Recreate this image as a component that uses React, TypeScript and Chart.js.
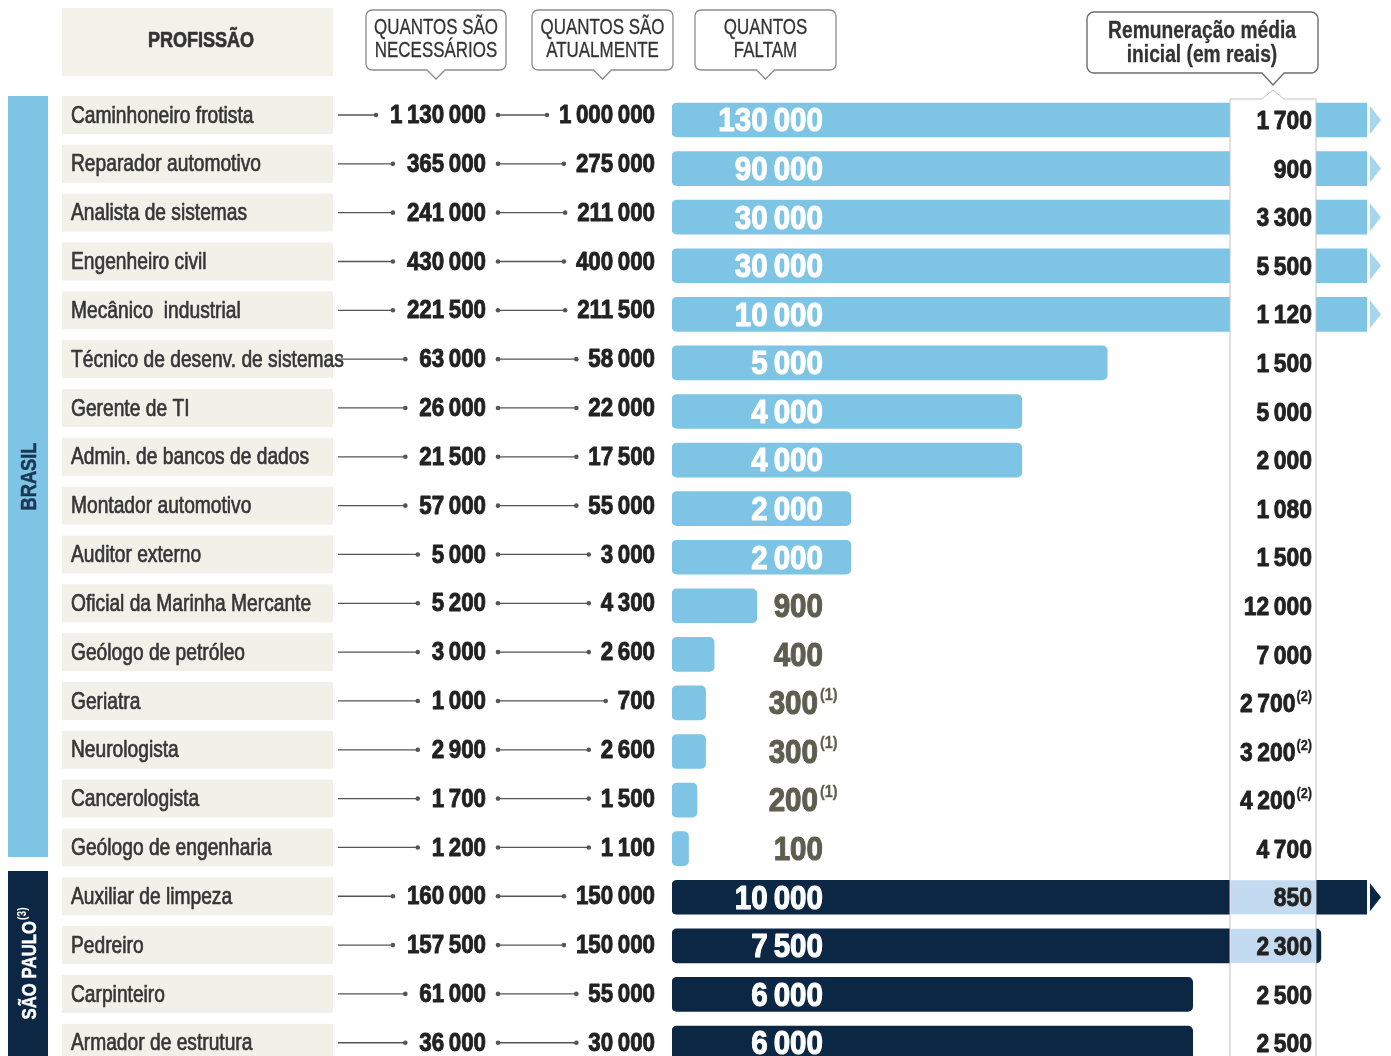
import React, { useEffect, useRef } from "react";
import { Chart, registerables } from "chart.js";
Chart.register(...registerables);

const professions = [
  "Caminhoneiro frotista",
  "Reparador automotivo",
  "Analista de sistemas",
  "Engenheiro civil",
  "Mecânico  industrial",
  "Técnico de desenv. de sistemas",
  "Gerente de TI",
  "Admin. de bancos de dados",
  "Montador automotivo",
  "Auditor externo",
  "Oficial da Marinha Mercante",
  "Geólogo de petróleo",
  "Geriatra",
  "Neurologista",
  "Cancerologista",
  "Geólogo de engenharia",
  "Auxiliar de limpeza",
  "Pedreiro",
  "Carpinteiro",
  "Armador de estrutura",
];
const regions = [
  "BRASIL", "BRASIL", "BRASIL", "BRASIL", "BRASIL", "BRASIL", "BRASIL", "BRASIL",
  "BRASIL", "BRASIL", "BRASIL", "BRASIL", "BRASIL", "BRASIL", "BRASIL", "BRASIL",
  "SÃO PAULO", "SÃO PAULO", "SÃO PAULO", "SÃO PAULO",
];
const needed = [1130000, 365000, 241000, 430000, 221500, 63000, 26000, 21500, 57000, 5000, 5200, 3000, 1000, 2900, 1700, 1200, 160000, 157500, 61000, 36000];
const current = [1000000, 275000, 211000, 400000, 211500, 58000, 22000, 17500, 55000, 3000, 4300, 2600, 700, 2600, 1500, 1100, 150000, 150000, 55000, 30000];
const missing = [130000, 90000, 30000, 30000, 10000, 5000, 4000, 4000, 2000, 2000, 900, 400, 300, 300, 200, 100, 10000, 7500, 6000, 6000];
const salary = [1700, 900, 3300, 5500, 1120, 1500, 5000, 2000, 1080, 1500, 12000, 7000, 2700, 3200, 4200, 4700, 850, 2300, 2500, 2500];
const missingNotes = ["", "", "", "", "", "", "", "", "", "", "", "", "(1)", "(1)", "(1)", "", "", "", "", ""];
const salaryNotes = ["", "", "", "", "", "", "", "", "", "", "", "", "(2)", "(2)", "(2)", "", "", "", "", ""];
const headerNeeded = ["QUANTOS SÃO", "NECESSÁRIOS"];
const headerCurrent = ["QUANTOS SÃO", "ATUALMENTE"];
const headerMissing = ["QUANTOS", "FALTAM"];
const headerSalary = ["Remuneração média", "inicial (em reais)"];
const headerProf = "PROFISSÃO";
const regionNames = ["BRASIL", "SÃO PAULO"];
const regionNoteSP = "(3)";

const X_MIN = -93;
const X_MAX = 8040;

const LIGHT = "#7dc4e5";
const DARK = "#0b2744";
const BAND_LIGHT_FILL = "#c4daf0";
const GRAY_LABEL = "#5e5e50";
const FONT = '"Liberation Sans", Arial, sans-serif';

function fmt(n: number) {
  return String(n).replace(/\B(?=(\d{3})+(?!\d))/g, "\u2009");
}

type TOpts = { size: number; bold?: boolean; align?: "left" | "right" | "center"; color: string; sx?: number; heavy?: number };

function txt(ctx: CanvasRenderingContext2D, s: string, x: number, y: number, o: TOpts) {
  const sx = o.sx ?? 0.82;
  ctx.save();
  ctx.font = `${o.bold ? "bold " : ""}${o.size}px ${FONT}`;
  const w = ctx.measureText(s).width * sx;
  const align = o.align ?? "left";
  const left = align === "left" ? x : align === "right" ? x - w : x - w / 2;
  ctx.translate(left, y);
  ctx.scale(sx, 1);
  ctx.textAlign = "left";
  ctx.textBaseline = "middle";
  ctx.fillStyle = o.color;
  ctx.fillText(s, 0, 0);
  if (o.heavy) {
    ctx.strokeStyle = o.color;
    ctx.lineWidth = o.heavy;
    ctx.lineJoin = "round";
    ctx.strokeText(s, 0, 0);
  }
  ctx.restore();
  return w;
}

function measure(ctx: CanvasRenderingContext2D, s: string, size: number, bold: boolean, sx: number) {
  ctx.save();
  ctx.font = `${bold ? "bold " : ""}${size}px ${FONT}`;
  const w = ctx.measureText(s).width * sx;
  ctx.restore();
  return w;
}

function callout(ctx: CanvasRenderingContext2D, x: number, y: number, w: number, h: number, r: number, tx: number, tw: number, th: number) {
  ctx.beginPath();
  ctx.moveTo(x + r, y);
  ctx.lineTo(x + w - r, y);
  ctx.arcTo(x + w, y, x + w, y + r, r);
  ctx.lineTo(x + w, y + h - r);
  ctx.arcTo(x + w, y + h, x + w - r, y + h, r);
  ctx.lineTo(tx + tw, y + h);
  ctx.lineTo(tx, y + h + th);
  ctx.lineTo(tx - tw, y + h);
  ctx.lineTo(x + r, y + h);
  ctx.arcTo(x, y + h, x, y + h - r, r);
  ctx.lineTo(x, y + r);
  ctx.arcTo(x, y, x + r, y, r);
  ctx.closePath();
}

function dot(ctx: CanvasRenderingContext2D, x: number, y: number) {
  ctx.beginPath();
  ctx.arc(x, y, 2.3, 0, Math.PI * 2);
  ctx.fill();
}

const infographicPlugin = {
  id: "infographic",
  beforeDatasetsDraw(chart: any) {
    const ctx: CanvasRenderingContext2D = chart.ctx;
    const ys = chart.scales.y;
    const rowY = (i: number) => ys.getPixelForValue(i);
    const textY = (i: number) => rowY(i) - 5 + i * 0.25;
    ctx.save();
    ctx.fillStyle = "#ffffff";
    ctx.fillRect(0, 0, chart.width, chart.height);

    // region bands
    const nBr = regions.filter((r) => r === regionNames[0]).length;
    const brTop = rowY(0) - 24;
    const split = (rowY(nBr - 1) + rowY(nBr)) / 2;
    const brBottom = split - 16;
    const spTop = split - 2;
    ctx.fillStyle = LIGHT;
    ctx.fillRect(8, brTop, 40, brBottom - brTop);
    ctx.fillStyle = DARK;
    ctx.fillRect(8, spTop, 40, chart.height - spTop);

    ctx.save();
    ctx.translate(29, (brTop + brBottom) / 2);
    ctx.rotate(-Math.PI / 2);
    txt(ctx, regionNames[0], 0, 1, { size: 22, bold: true, align: "center", color: "#1c3654", sx: 0.83, heavy: 0.5 });
    ctx.restore();

    ctx.save();
    ctx.translate(29, (spTop + chart.height) / 2);
    ctx.rotate(-Math.PI / 2);
    const spW = measure(ctx, regionNames[1], 21, true, 0.8);
    const nW = measure(ctx, regionNoteSP, 12, true, 0.85);
    const startX = -(spW + nW + 1) / 2;
    txt(ctx, regionNames[1], startX, 1, { size: 21, bold: true, color: "#ffffff", sx: 0.8, heavy: 0.5 });
    txt(ctx, regionNoteSP, startX + spW + 1, -6, { size: 12, bold: true, color: "#ffffff", sx: 0.85 });
    ctx.restore();

    // header: profession
    ctx.fillStyle = "#f2f2eb";
    ctx.fillRect(62, 8, 271, 68);
    txt(ctx, headerProf, 201, 41, { size: 22, bold: true, align: "center", color: "#333333", sx: 0.82, heavy: 0.7 });

    // header callouts
    const boxes = [
      { x: 366, w: 140, lines: headerNeeded },
      { x: 532, w: 141, lines: headerCurrent },
      { x: 695, w: 141, lines: headerMissing },
    ];
    for (const b of boxes) {
      callout(ctx, b.x, 10, b.w, 60, 6, b.x + b.w / 2, 9, 9);
      ctx.fillStyle = "#ffffff";
      ctx.fill();
      ctx.strokeStyle = "#8c8c8c";
      ctx.lineWidth = 1.3;
      ctx.stroke();
      txt(ctx, b.lines[0], b.x + b.w / 2, 28, { size: 22, align: "center", color: "#333333", sx: 0.77, heavy: 0.3 });
      txt(ctx, b.lines[1], b.x + b.w / 2, 51, { size: 22, align: "center", color: "#333333", sx: 0.77, heavy: 0.3 });
    }

    // rows (left part)
    for (let i = 0; i < professions.length; i++) {
      const ty = textY(i);
      ctx.fillStyle = "#f1f1ea";
      ctx.fillRect(62, ty - 19, 271, 38);
      txt(ctx, professions[i], 71, ty + 1, { size: 24, color: "#363636", sx: 0.8, heavy: 0.7 });

      const nTxt = fmt(needed[i]);
      const cTxt = fmt(current[i]);
      const numO = { size: 26, bold: true, align: "right" as const, color: "#222222", sx: 0.86, heavy: 0.9 };
      const nW2 = txt(ctx, nTxt, 486, ty + 1, numO);
      const cW2 = txt(ctx, cTxt, 655, ty + 1, numO);

      ctx.strokeStyle = "#555555";
      ctx.fillStyle = "#555555";
      ctx.lineWidth = 1.3;
      const l1End = 486 - nW2 - 14;
      ctx.beginPath();
      ctx.moveTo(338, ty);
      ctx.lineTo(l1End, ty);
      ctx.stroke();
      dot(ctx, l1End, ty);
      const l2Start = 486 + 12;
      const l2End = 655 - cW2 - 12;
      ctx.beginPath();
      ctx.moveTo(l2Start, ty);
      ctx.lineTo(l2End, ty);
      ctx.stroke();
      dot(ctx, l2Start, ty);
      dot(ctx, l2End, ty);
    }

    // salary callout
    callout(ctx, 1087, 12, 231, 61, 7, 1273, 11, 12);
    ctx.fillStyle = "#ffffff";
    ctx.fill();
    ctx.strokeStyle = "#6e6e6e";
    ctx.lineWidth = 1.4;
    ctx.stroke();
    txt(ctx, headerSalary[0], 1202, 31, { size: 24, bold: true, align: "center", color: "#333333", sx: 0.8, heavy: 0.3 });
    txt(ctx, headerSalary[1], 1202, 55, { size: 24, bold: true, align: "center", color: "#333333", sx: 0.8, heavy: 0.3 });
    ctx.restore();
  },
  afterDatasetsDraw(chart: any) {
    const ctx: CanvasRenderingContext2D = chart.ctx;
    const area = chart.chartArea;
    const meta = chart.getDatasetMeta(0);
    ctx.save();

    // arrows for truncated bars
    for (let i = 0; i < missing.length; i++) {
      if (missing[i] <= X_MAX) continue;
      const el = meta.data[i];
      const cy = el.y;
      const x0 = area.right + 3;
      ctx.beginPath();
      ctx.moveTo(x0, cy - 14);
      ctx.lineTo(x0 + 11, cy);
      ctx.lineTo(x0, cy + 14);
      ctx.closePath();
      ctx.fillStyle = regions[i] === regionNames[0] ? "#a6d6ee" : DARK;
      ctx.fill();
    }

    // salary column band
    const bandL = 1230;
    const bandR = 1316;
    ctx.beginPath();
    ctx.moveTo(bandL, chart.height + 2);
    ctx.lineTo(bandL, 99);
    ctx.lineTo(1262, 99);
    ctx.lineTo(1273, 90);
    ctx.lineTo(1284, 99);
    ctx.lineTo(bandR, 99);
    ctx.lineTo(bandR, chart.height + 2);
    ctx.fillStyle = "#ffffff";
    ctx.fill();
    ctx.strokeStyle = "#c4c4c4";
    ctx.lineWidth = 1;
    ctx.stroke();

    for (let i = 0; i < missing.length; i++) {
      const el = meta.data[i];
      const right = Math.min(el.x, area.right);
      if (regions[i] !== regionNames[0] && right > bandL) {
        ctx.fillStyle = BAND_LIGHT_FILL;
        ctx.fillRect(bandL + 1, el.y - el.height / 2, Math.min(right, bandR) - bandL - 1, el.height);
      }
    }

    // salary values
    for (let i = 0; i < salary.length; i++) {
      const el = meta.data[i];
      const cy = el.y + 2;
      let xr = 1312;
      if (salaryNotes[i]) {
        const w = txt(ctx, salaryNotes[i], xr, cy - 8, { size: 15, bold: true, align: "right", color: "#222222", sx: 0.85, heavy: 0.3 });
        xr -= w + 1;
      }
      txt(ctx, fmt(salary[i]), xr, cy, { size: 26, bold: true, align: "right", color: "#222222", sx: 0.88, heavy: 0.9 });
    }

    // bar value labels
    for (let i = 0; i < missing.length; i++) {
      const el = meta.data[i];
      const cy = el.y + 2;
      const right = Math.min(el.x, area.right);
      const inside = right > 835;
      const color = inside ? "#ffffff" : GRAY_LABEL;
      const xr = missingNotes[i] ? 818 : 823;
      txt(ctx, fmt(missing[i]), xr, cy, { size: 34, bold: true, align: "right", color, sx: 0.87, heavy: 1.1 });
      if (missingNotes[i]) {
        txt(ctx, missingNotes[i], xr + 2, cy - 10, { size: 17, bold: true, color, sx: 0.85, heavy: 0.3 });
      }
    }
    ctx.restore();
  },
};

export default function App() {
  const ref = useRef<HTMLCanvasElement>(null);
  useEffect(() => {
    document.body.style.margin = "0";
    const canvas = ref.current as HTMLCanvasElement;
    const chart = new Chart(canvas, {
      type: "bar",
      data: {
        labels: professions,
        datasets: [
          {
            data: missing,
            backgroundColor: regions.map((r) => (r === regionNames[0] ? LIGHT : DARK)),
            base: X_MIN,
            barThickness: 34,
            borderRadius: 5,
            borderSkipped: false,
            clip: { left: 0, right: 0, top: false, bottom: false },
          } as any,
        ],
      },
      options: {
        indexAxis: "y",
        responsive: false,
        animation: false,
        devicePixelRatio: 1,
        layout: { padding: { left: 672, right: 24, top: 120, bottom: 13 } },
        scales: {
          x: { type: "linear", min: X_MIN, max: X_MAX, display: false },
          y: { type: "category", offset: false, display: false },
        },
        plugins: { legend: { display: false }, tooltip: { enabled: false } },
      } as any,
      plugins: [infographicPlugin],
    });
    return () => chart.destroy();
  }, []);
  return <canvas ref={ref} width={1391} height={1056} style={{ display: "block" }} />;
}
